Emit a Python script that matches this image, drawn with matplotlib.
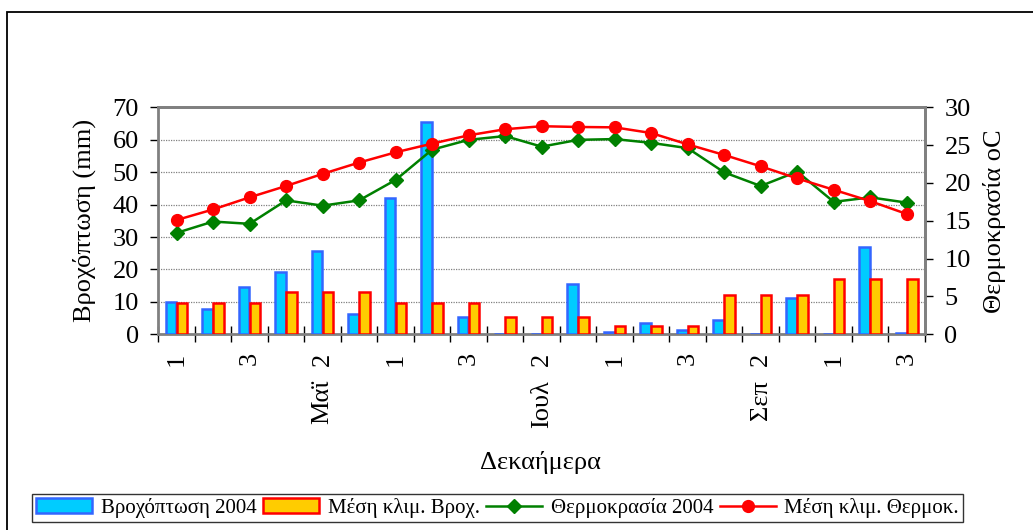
import matplotlib
matplotlib.use("Agg")
import matplotlib.pyplot as plt
from matplotlib.patches import Rectangle
import numpy as np

plt.rcParams["font.family"] = ["Liberation Serif", "DejaVu Serif"]

months = ["Απρ", "Μαϊ", "Ιουν", "Ιουλ", "Αυγ", "Σεπ", "Οκτ"]
dekads = ["1", "2", "3"]

rain_2004 = [10.0, 7.7, 14.6, 19.2, 25.7, 6.3, 41.9, 65.6, 5.4, 0.0, 0.0,
             15.5, 0.8, 3.4, 1.3, 4.3, 0.0, 11.3, 0.0, 27.0, 0.4]
rain_clim = [9.6, 9.6, 9.6, 12.9, 12.9, 12.9, 9.6, 9.6, 9.6, 5.4, 5.4,
             5.4, 2.6, 2.6, 2.6, 12.2, 12.2, 12.2, 17.0, 17.0, 17.0]
temp_2004 = [13.4, 14.9, 14.6, 17.7, 17.0, 17.7, 20.4, 24.4, 25.7, 26.2, 24.8,
             25.7, 25.8, 25.3, 24.6, 21.4, 19.6, 21.5, 17.5, 18.1, 17.4]
temp_clim = [15.1, 16.5, 18.1, 19.6, 21.2, 22.7, 24.05, 25.2, 26.3, 27.1, 27.5,
             27.4, 27.35, 26.6, 25.1, 23.7, 22.2, 20.6, 19.1, 17.6, 15.9]

BLUE_FILL, BLUE_EDGE = "#00CCFF", "#3366FF"
ORG_FILL, ORG_EDGE = "#FFCC00", "#FF0000"
GREEN, RED = "#008000", "#FF0000"
GREY = "#808080"
FS = 19

x = np.arange(1, len(rain_2004) + 1)

fig = plt.figure(figsize=(10.33, 5.30), dpi=100)
ax = fig.add_axes([158.3 / 1033, 195.7 / 530, (925 - 158.3) / 1033, (334.3 - 107.3) / 530])
ax2 = ax.twinx()

# outer chart-area border
fig.patches.append(Rectangle((7 / 1033, -0.05), 1.1, (530 - 12) / 530 + 0.05,
                             transform=fig.transFigure, fill=False, lw=1.3,
                             edgecolor="black"))

b1 = ax.bar(x - 0.15, rain_2004, width=0.29, color=BLUE_FILL, edgecolor=BLUE_EDGE,
            lw=1.8, label="Βροχόπτωση 2004", zorder=3)
b2 = ax.bar(x + 0.15, rain_clim, width=0.29, color=ORG_FILL, edgecolor=ORG_EDGE,
            lw=1.8, label="Μέση κλιμ. Βροχ.", zorder=3)

l1, = ax2.plot(x, temp_2004, color=GREEN, lw=1.8, marker="D", ms=7.5,
               label="Θερμοκρασία 2004", zorder=4)
l2, = ax2.plot(x, temp_clim, color=RED, lw=1.8, marker="o", ms=8.5,
               label="Μέση κλιμ. Θερμοκ.", zorder=5)

ax.set_xlim(0.5, len(x) + 0.5)
ax.set_ylim(0, 70)
ax2.set_ylim(0, 30)
ax.set_yticks(range(0, 71, 10))
ax2.set_yticks(range(0, 31, 5))
for y in range(10, 70, 10):
    ax.axhline(y, color=GREY, lw=0.9, ls=(0, (1, 1)), zorder=1)

for a in (ax, ax2):
    for s in a.spines.values():
        s.set_color(GREY)
        s.set_linewidth(2)
ax2.spines["left"].set_visible(False)
ax2.spines["bottom"].set_visible(False)
ax2.set_zorder(ax.get_zorder() + 1)
ax2.patch.set_visible(False)

ax.tick_params(axis="y", labelsize=FS, length=6, width=1, direction="out", pad=8)
ax2.tick_params(axis="y", labelsize=FS, length=6, width=1, direction="out", pad=8)

# category ticks at boundaries, labels on every other dekad
ax.set_xticks(np.arange(0.5, len(x) + 1, 1.0), minor=True)
ax.tick_params(axis="x", which="minor", direction="inout", length=12, width=1)
ax.set_xticks(x[::2])
ax.set_xticklabels([dekads[(i - 1) % 3] for i in x[::2]], rotation=90, fontsize=FS)
ax.tick_params(axis="x", which="major", length=0, pad=13)
for i in x[::2]:
    if (i - 1) % 3 == 1:
        ax.text(i, -0.2, months[(i - 1) // 3], transform=ax.get_xaxis_transform(),
                rotation=90, ha="center", va="top", fontsize=FS)

ax.set_ylabel("Βροχόπτωση (mm)", fontsize=FS, labelpad=12)
ax2.set_ylabel("Θερμοκρασία οC", fontsize=FS, labelpad=9)
fig.text(540 / 1033, 1 - 462 / 530, "Δεκαήμερα", ha="center", va="center", fontsize=FS)

leg = fig.legend([b1, b2, l1, l2], [h.get_label() for h in (b1, b2, l1, l2)],
                 loc="lower left", ncol=4, mode="expand",
                 bbox_to_anchor=(32 / 1033, 8 / 530, 931 / 1033, 31 / 530),
                 fontsize=15, frameon=True, fancybox=False, handlelength=2.7,
                 handletextpad=0.4, borderpad=0.2, borderaxespad=0)
leg.get_frame().set_edgecolor("black")
leg.get_frame().set_linewidth(1)

fig.savefig("out.png", dpi=100)
